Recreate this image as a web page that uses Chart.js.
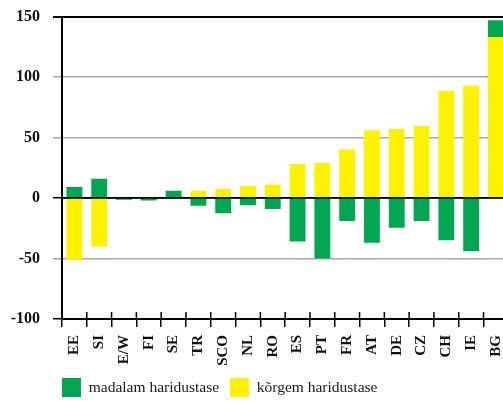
<!DOCTYPE html>
<html>
<head>
<meta charset="utf-8">
<script src="https://cdn.jsdelivr.net/npm/chart.js@4/dist/chart.umd.min.js"></script>
<style>
html,body{margin:0;padding:0;overflow:hidden;background:#fff;width:503px;height:403px;}
#wrap{width:522px;height:403px;position:relative;}
canvas{display:block;}
</style>
</head>
<body>
<div id="wrap"><canvas id="c" width="522" height="403"></canvas></div>
<script>
const categories = ['EE','SI','E/W','FI','SE','TR','SCO','NL','RO','ES','PT','FR','AT','DE','CZ','CH','IE','BG'];
const lowerEdu  = [9, 16, -1.5, -2, 6, -6.5, -12.5, -6, -9, -36, -50, -19, -37, -24.5, -19, -35, -44, 14];
const higherEdu = [-51, -40, 0, 1, 0, 6, 7.5, 10, 11, 28, 29, 40, 56, 57, 59.5, 88.5, 93, 133];
const yTicks = [-100, -50, 0, 50, 100, 150];
const seriesNames = ['madalam haridustase', 'kõrgem haridustase'];

const serif = "'Liberation Serif', 'DejaVu Serif', serif";

const overlay = {
  id: 'overlay',
  afterDatasetsDraw(chart) {
    const x = chart.scales.x, y = chart.scales.y, ca = chart.chartArea, ctx = chart.ctx;
    ctx.save();
    ctx.strokeStyle = '#000';
    ctx.lineWidth = 1.5;
    const y0 = y.getPixelForValue(0);
    ctx.beginPath(); ctx.moveTo(ca.left, y0); ctx.lineTo(ca.right, y0); ctx.stroke();
    for (let i = 0; i <= categories.length; i++) {
      const px = x.getPixelForValue(i - 0.5);
      ctx.beginPath(); ctx.moveTo(px, ca.bottom - 7); ctx.lineTo(px, ca.bottom); ctx.stroke();
    }
    ctx.restore();
  }
};

new Chart(document.getElementById('c'), {
  type: 'bar',
  data: {
    labels: categories,
    datasets: [
      { label: seriesNames[1], data: higherEdu, backgroundColor: '#fff200', borderWidth: 0 },
      { label: seriesNames[0], data: lowerEdu, backgroundColor: '#00a651', borderWidth: 0 }
    ]
  },
  options: {
    responsive: false,
    animation: false,
    layout: { padding: { left: 10, right: 2.5, top: 0, bottom: -4 } },
    datasets: { bar: { categoryPercentage: 1, barPercentage: 0.64 } },
    scales: {
      x: {
        stacked: true,
        offset: true,
        border: { display: true, color: '#000', width: 2 },
        grid: { drawOnChartArea: false, drawTicks: true, tickLength: 8, color: '#000', lineWidth: 1.5, offset: true },
        ticks: {
          autoSkip: false, minRotation: 90, maxRotation: 90, padding: 8,
          color: '#111', font: { family: serif, size: 15, weight: 'bold' }
        },
        afterFit(scale) { scale.height = 59; }
      },
      y: {
        stacked: true,
        min: -100, max: 150,
        afterBuildTicks(scale) { scale.ticks = yTicks.map(v => ({ value: v })); },
        afterFit(scale) { scale.width = 52; scale.paddingTop = 16.5; scale.paddingBottom = 0; },
        border: { display: true, color: '#000', width: 2 },
        grid: {
          tickLength: 9,
          color: ctx => (ctx.tick && (ctx.tick.value === 0 || ctx.tick.value === 150 || ctx.tick.value === -100)) ? '#000' : '#a8a8a8',
          lineWidth: ctx => (ctx.tick && ctx.tick.value === 150) ? 2 : 1.5
        },
        ticks: {
          padding: 13, color: '#111',
          font: { family: serif, size: 16, weight: 'bold' }
        }
      }
    },
    plugins: {
      legend: {
        display: true,
        position: 'bottom',
        align: 'start',
        fullSize: false,
        reverse: true,
        labels: {
          boxWidth: 19, boxHeight: 19, padding: 0,
          color: '#1a1a1a',
          font: { family: serif, size: 15.5 },
          generateLabels(chart) {
            const items = Chart.defaults.plugins.legend.labels.generateLabels(chart);
            return items.map(it => Object.assign(it, { text: it.text + '\u2002\u2009', lineWidth: 0 }));
          }
        }
      },
      tooltip: { enabled: false }
    }
  },
  plugins: [overlay]
});
</script>
</body>
</html>
